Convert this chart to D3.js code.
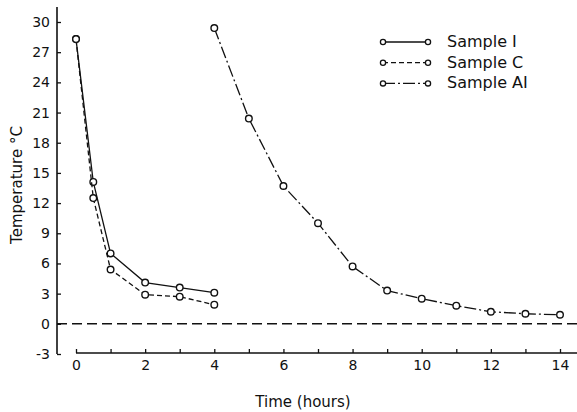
<!DOCTYPE html>
<html>
<head>
<meta charset="utf-8">
<script src="https://cdn.jsdelivr.net/npm/d3@7"></script>
<style>
  html, body { margin: 0; padding: 0; background: #fff; }
  svg { display: block; }
  text { font-family: "DejaVu Sans", sans-serif; fill: #111; }
</style>
</head>
<body>
<svg id="chart" width="577" height="412"></svg>
<script>
// ---- data ----
const hoursIC = [0, 0.5, 1, 2, 3, 4];
const sampleI = [28.3, 14.1, 7.0, 4.1, 3.6, 3.1];
const sampleC = [28.3, 12.5, 5.4, 2.9, 2.7, 1.9];
const hoursAI = [4, 5, 6, 7, 8, 9, 10, 11, 12, 13, 14];
const sampleAI = [29.4, 20.4, 13.7, 10.0, 5.7, 3.3, 2.5, 1.8, 1.2, 1.0, 0.9];
const yTicks = [-3, 0, 3, 6, 9, 12, 15, 18, 21, 24, 27, 30];
const xTicks = [0, 1, 2, 3, 4, 5, 6, 7, 8, 9, 10, 11, 12, 13, 14];
const xTickLabels = [0, 2, 4, 6, 8, 10, 12, 14];
const legendNames = ["Sample I", "Sample C", "Sample AI"];

const W = 577, H = 412;
const svg = d3.select("#chart");
const x = d3.scaleLinear().domain([0, 14]).range([76, 560]);
const y = d3.scaleLinear().domain([-3, 30]).range([354, 22]);
const axisX = 57;

const styles = [
  { dash: null },
  { dash: "5,3" },
  { dash: "12,3,2,3" }
];

// y axis
const yAxis = d3.axisLeft(y).tickValues(yTicks).tickSizeInner(-4).tickSizeOuter(0).tickPadding(7)
  .tickFormat(d => String(d));
const gy = svg.append("g").attr("transform", `translate(${axisX},0)`).call(yAxis);
gy.select(".domain").remove();
gy.selectAll(".tick line").attr("stroke", "#111").attr("stroke-width", 1.3);
gy.selectAll(".tick text").style("font-size", "14px").style("font-family", "DejaVu Sans, sans-serif").attr("fill", "#111");
svg.append("line").attr("x1", axisX).attr("x2", axisX)
  .attr("y1", y(31.5)).attr("y2", y(-3))
  .attr("stroke", "#111").attr("stroke-width", 1.6);

// x axis
const xAxis = d3.axisBottom(x).tickValues(xTicks).tickSizeInner(-4).tickSizeOuter(0).tickPadding(7)
  .tickFormat(d => xTickLabels.includes(d) ? String(d) : "");
const gx = svg.append("g").attr("transform", `translate(0,${y(-3) - 1})`).call(xAxis);
gx.select(".domain").remove();
gx.selectAll(".tick line").attr("stroke", "#111").attr("stroke-width", 1.3);
gx.selectAll(".tick text").style("font-size", "14px").style("font-family", "DejaVu Sans, sans-serif").attr("fill", "#111");
svg.append("line").attr("x1", x(0)).attr("x2", W)
  .attr("y1", y(-3) - 1).attr("y2", y(-3) - 1)
  .attr("stroke", "#111").attr("stroke-width", 1.6);

// zero line
svg.append("line").attr("x1", axisX).attr("x2", W)
  .attr("y1", y(0)).attr("y2", y(0))
  .attr("stroke", "#111").attr("stroke-width", 1.5).attr("stroke-dasharray", "10,5");

// series
const series = [
  { xs: hoursIC, ys: sampleI, st: styles[0] },
  { xs: hoursIC, ys: sampleC, st: styles[1] },
  { xs: hoursAI, ys: sampleAI, st: styles[2] }
];
const line = d3.line().x(d => x(d[0])).y(d => y(d[1]));
series.forEach(s => {
  const pts = s.xs.map((h, i) => [h, s.ys[i]]);
  svg.append("path").datum(pts).attr("d", line)
    .attr("fill", "none").attr("stroke", "#111").attr("stroke-width", 1.3)
    .attr("stroke-dasharray", s.st.dash);
  svg.append("g").selectAll("circle").data(pts).join("circle")
    .attr("cx", d => x(d[0])).attr("cy", d => y(d[1])).attr("r", 3.3)
    .attr("fill", "#fff").attr("stroke", "#111").attr("stroke-width", 1.4);
});

// legend
const lg = svg.append("g");
legendNames.forEach((name, i) => {
  const ry = 42 + i * 20.7;
  lg.append("line").attr("x1", 383).attr("x2", 428).attr("y1", ry).attr("y2", ry)
    .attr("stroke", "#111").attr("stroke-width", 1.3).attr("stroke-dasharray", styles[i].dash);
  [383, 428].forEach(cx => lg.append("circle").attr("cx", cx).attr("cy", ry).attr("r", 2.6)
    .attr("fill", "#fff").attr("stroke", "#111").attr("stroke-width", 1.3));
  lg.append("text").attr("x", 447).attr("y", ry + 5).style("font-size", "16px").text(name);
});

// axis titles
svg.append("text").attr("transform", `translate(22,185) rotate(-90)`)
  .attr("text-anchor", "middle").style("font-size", "15px").text("Temperature °C");
svg.append("text").attr("x", 303).attr("y", 407)
  .attr("text-anchor", "middle").style("font-size", "15px").text("Time (hours)");
</script>
</body>
</html>
